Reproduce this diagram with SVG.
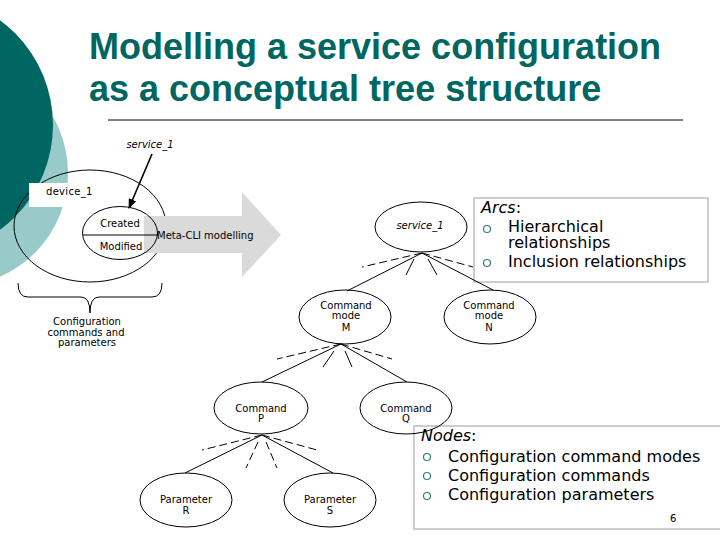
<svg xmlns="http://www.w3.org/2000/svg" width="720" height="540" viewBox="0 0 720 540">
<defs>
<style>
.t{font-family:"DejaVu Sans",Verdana,sans-serif;font-size:10px;fill:#000}
.ti{font-family:"DejaVu Sans",Verdana,sans-serif;font-size:10px;font-style:italic;fill:#000}
.big{font-family:"DejaVu Sans",Verdana,sans-serif;font-size:16px;fill:#000}
.title{font-family:"Liberation Sans",Arial,sans-serif;font-size:36px;font-weight:bold;fill:#006662}
.node{fill:none;stroke:#000;stroke-width:1}
.solid{stroke:#000;stroke-width:1;fill:none}
.dash{stroke:#000;stroke-width:1;fill:none;stroke-dasharray:8,4}
.bul{fill:none;stroke:#2E7D78;stroke-width:1.2}
.box{fill:#fff;stroke:#BDBDBD;stroke-width:1.5}
</style>
<marker id="ah" markerWidth="10" markerHeight="10" refX="9" refY="5" orient="auto" markerUnits="userSpaceOnUse">
<path d="M0,1 L10,5 L0,9 z" fill="#000"/>
</marker>
</defs>
<rect width="720" height="540" fill="#fff"/>
<!-- background circles -->
<circle cx="-45" cy="173" r="113" fill="#99CACA"/>
<circle cx="-77" cy="125" r="130" fill="#006662"/>
<!-- title -->
<text class="title" x="89" y="59">Modelling a service configuration</text>
<text class="title" x="89" y="101">as a conceptual tree structure</text>
<line x1="108" y1="120" x2="683" y2="120" stroke="#000" stroke-width="1"/>

<!-- left: device -->
<g id="device">
<ellipse cx="90" cy="226" rx="76" ry="56" class="node"/>
<rect x="29" y="183" width="69" height="24" fill="#fff"/>
<text class="t" x="46" y="195" letter-spacing="0.3">device_1</text>
</g>
<g id="meta-arrow">
<polygon points="144,216 242,216 242,192 281,235 242,277 242,253 144,253" fill="#DADADA"/>
<text class="t" x="157" y="239">Meta-CLI modelling</text>
</g>
<g id="service-record">
<ellipse cx="120" cy="233" rx="37.5" ry="26.5" class="node"/>
<line x1="83" y1="235" x2="158" y2="235" stroke="#000" stroke-width="1"/>
<text class="t" x="120" y="227" text-anchor="middle">Created</text>
<text class="t" x="121" y="250" text-anchor="middle">Modified</text>
</g>
<g id="service-label">
<text class="ti" x="150" y="148" text-anchor="middle">service_1</text>
<line x1="152" y1="154" x2="129" y2="208" stroke="#000" stroke-width="1.6" marker-end="url(#ah)"/>
</g>
<g id="brace">
<path d="M18,283 Q18,297 28,297 L81,297 Q90,297 90,313 Q90,297 99,297 L152,297 Q162,297 162,283" class="solid"/>
<text class="t" x="87" y="325" text-anchor="middle">Configuration</text>
<text class="t" x="86" y="336" text-anchor="middle">commands and</text>
<text class="t" x="87" y="346" text-anchor="middle">parameters</text>
</g>

<!-- legend boxes -->
<g id="arcs-legend">
<rect x="474" y="198" width="234" height="84" class="box"/>
<text class="big" x="481" y="213"><tspan font-style="italic">Arcs</tspan>:</text>
<circle cx="487" cy="229" r="3.5" class="bul"/>
<text class="big" x="508" y="232">Hierarchical</text>
<text class="big" x="508" y="248">relationships</text>
<circle cx="487" cy="263" r="3.5" class="bul"/>
<text class="big" x="508" y="267">Inclusion relationships</text>
</g>
<g id="nodes-legend">
<rect x="414" y="426" width="316" height="103" class="box"/>
<text class="big" x="421" y="441"><tspan font-style="italic">Nodes</tspan>:</text>
<circle cx="427" cy="457" r="3.5" class="bul"/>
<text class="big" x="448" y="462">Configuration command modes</text>
<circle cx="427" cy="476" r="3.5" class="bul"/>
<text class="big" x="448" y="481">Configuration commands</text>
<circle cx="427" cy="496" r="3.5" class="bul"/>
<text class="big" x="448" y="500">Configuration parameters</text>
<text class="t" x="670" y="522" font-size="12">6</text>
</g>

<!-- connectors -->
<g id="connectors">
<line x1="422" y1="253" x2="347" y2="291" class="solid"/>
<line x1="422" y1="253" x2="493" y2="290" class="solid"/>
<line x1="422" y1="253" x2="362" y2="267" class="dash"/>
<line x1="422" y1="253" x2="473" y2="267" class="dash"/>
<line x1="414" y1="259" x2="406" y2="275" class="solid"/>
<line x1="428" y1="259" x2="437" y2="275" class="solid"/>

<line x1="341" y1="344" x2="262" y2="382" class="solid"/>
<line x1="341" y1="344" x2="407" y2="382" class="solid"/>
<line x1="341" y1="344" x2="277" y2="359" class="dash"/>
<line x1="341" y1="344" x2="392" y2="359" class="dash"/>
<line x1="334" y1="351" x2="323" y2="367" class="solid"/>
<line x1="345" y1="351" x2="352" y2="367" class="solid"/>

<line x1="262" y1="435" x2="185" y2="473" class="solid"/>
<line x1="262" y1="435" x2="333" y2="473" class="solid"/>
<line x1="262" y1="435" x2="202" y2="450" class="dash"/>
<line x1="262" y1="435" x2="317" y2="450" class="dash"/>
<line x1="258" y1="442" x2="246" y2="468" class="dash" stroke-dasharray="16,5"/>
<line x1="266" y1="442" x2="277" y2="468" class="dash" stroke-dasharray="16,5"/>
</g>

<!-- tree nodes -->
<g id="node-service1">
<ellipse cx="421" cy="227" rx="46" ry="25" class="node"/>
<text class="ti" x="420" y="229" text-anchor="middle">service_1</text>
</g>
<g id="node-M">
<ellipse cx="345" cy="317" rx="46" ry="27" class="node"/>
<text class="t" x="346" y="309" text-anchor="middle">Command</text>
<text class="t" x="346" y="319" text-anchor="middle">mode</text>
<text class="t" x="346" y="331" text-anchor="middle">M</text>
</g>
<g id="node-N">
<ellipse cx="490" cy="317" rx="46" ry="27" class="node"/>
<text class="t" x="489" y="309" text-anchor="middle">Command</text>
<text class="t" x="489" y="319" text-anchor="middle">mode</text>
<text class="t" x="489" y="331" text-anchor="middle">N</text>
</g>
<g id="node-P">
<ellipse cx="261" cy="408" rx="47" ry="26" class="node"/>
<text class="t" x="261" y="412" text-anchor="middle">Command</text>
<text class="t" x="261" y="422" text-anchor="middle">P</text>
</g>
<g id="node-Q">
<ellipse cx="406" cy="408" rx="46" ry="26" class="node"/>
<text class="t" x="406" y="412" text-anchor="middle">Command</text>
<text class="t" x="406" y="422" text-anchor="middle">Q</text>
</g>
<g id="node-R">
<ellipse cx="186" cy="500" rx="46" ry="27" class="node"/>
<text class="t" x="186" y="503" text-anchor="middle">Parameter</text>
<text class="t" x="186" y="514" text-anchor="middle">R</text>
</g>
<g id="node-S">
<ellipse cx="330" cy="500" rx="46" ry="27" class="node"/>
<text class="t" x="330" y="503" text-anchor="middle">Parameter</text>
<text class="t" x="330" y="514" text-anchor="middle">S</text>
</g>
</svg>
